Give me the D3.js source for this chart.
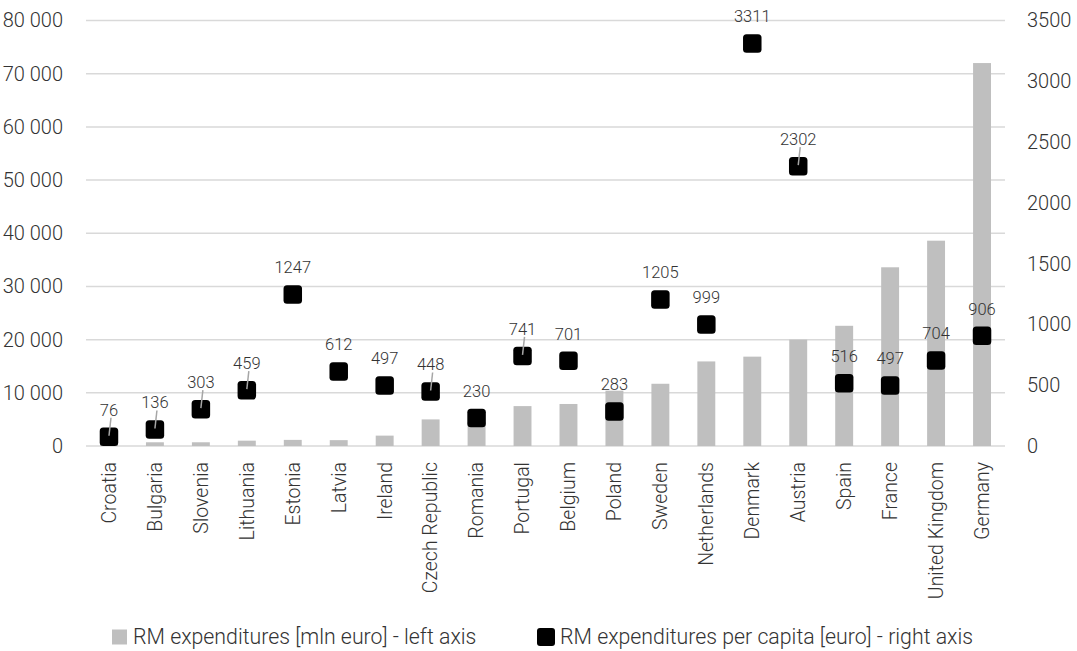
<!DOCTYPE html>
<html>
<head>
<meta charset="utf-8">
<script src="https://cdn.jsdelivr.net/npm/d3@7"></script>
<style>
	body { margin: 0; background: #fff; }
	svg { display: block; font-family: Roboto, "Noto Sans", sans-serif; font-weight: 300; }
</style>
</head>
<body>
<div id="chart"></div>
<script>
// countries, sorted by total spending
var countries = ["Croatia", "Bulgaria", "Slovenia", "Lithuania", "Estonia", "Latvia", "Ireland",
	"Czech Republic", "Romania", "Portugal", "Belgium", "Poland", "Sweden", "Netherlands",
	"Denmark", "Austria", "Spain", "France", "United Kingdom", "Germany"];
// RM expenditures [mln euro] - left axis
var totals = [350, 700, 700, 1000, 1150, 1100, 1950, 5000, 4500, 7500, 7900, 10400, 11700,
	15900, 16800, 20000, 22600, 33600, 38600, 72000];
// RM expenditures per capita [euro] - right axis
var perCapita = [76, 136, 303, 459, 1247, 612, 497, 448, 230, 741, 701, 283, 1205, 999,
	3311, 2302, 516, 497, 704, 906];
var leftTicks = [0, 10000, 20000, 30000, 40000, 50000, 60000, 70000, 80000];
var rightTicks = [0, 500, 1000, 1500, 2000, 2500, 3000, 3500];
// labels that Excel drew with a leader line
var withLeader = ["Croatia", "Bulgaria", "Slovenia", "Lithuania", "Czech Republic", "Portugal", "Austria"];

var W = 1077, H = 651;
var m = {top: 20.5, right: 72, bottom: 205, left: 86};

var svg = d3.select('#chart').append('svg')
	.attr('width', W)
	.attr('height', H);

var x = d3.scaleBand()
	.domain(countries)
	.range([m.left, W - m.right])
	.padding(0);
var yL = d3.scaleLinear().domain([0, 80000]).range([H - m.bottom, m.top]);
var yR = d3.scaleLinear().domain([0, 3500]).range([H - m.bottom, m.top]);

var fmt = function(d) { return d3.format(',')(d).replace(/,/g, ' '); };

// gridlines
svg.append('g')
	.selectAll('line')
	.data(leftTicks)
	.enter()
	.append('line')
	.attr('x1', m.left)
	.attr('x2', W - m.right)
	.attr('y1', function(d) { return yL(d); })
	.attr('y2', function(d) { return yL(d); })
	.attr('stroke', '#d9d9d9')
	.attr('stroke-width', 1.5);

// left axis
var gl = svg.append('g')
	.attr('transform', 'translate(' + (m.left - 17) + ',0)')
	.call(d3.axisLeft(yL).tickValues(leftTicks).tickFormat(fmt).tickSize(0).tickPadding(6));
gl.select('.domain').remove();
gl.selectAll('text')
	.attr('font-family', 'Roboto')
	.attr('font-size', '20px')
	.attr('fill', '#333');

// right axis
var gr = svg.append('g')
	.attr('transform', 'translate(' + (W - m.right + 16) + ',0)')
	.call(d3.axisRight(yR).tickValues(rightTicks).tickFormat(d3.format('d')).tickSize(0).tickPadding(6));
gr.select('.domain').remove();
gr.selectAll('text')
	.attr('font-family', 'Roboto')
	.attr('font-size', '20px')
	.attr('fill', '#333');

// bars
var bw = x.bandwidth() * 0.39;
svg.append('g')
	.selectAll('rect')
	.data(totals)
	.enter()
	.append('rect')
	.attr('x', function(d, i) { return x(countries[i]) + x.bandwidth() / 2 - bw / 2; })
	.attr('y', function(d) { return yL(d); })
	.attr('width', bw)
	.attr('height', function(d) { return yL(0) - yL(d); })
	.attr('fill', '#bfbfbf');

// category labels
svg.append('g')
	.selectAll('text')
	.data(countries)
	.enter()
	.append('text')
	.attr('transform', function(d) {
		return 'translate(' + (x(d) + x.bandwidth() / 2) + ',' + (yL(0) + 16) + ') rotate(-90)';
	})
	.attr('dy', '0.35em')
	.attr('text-anchor', 'end')
	.attr('font-size', '19.5px')
	.attr('fill', '#333')
	.text(function(d) { return d; });

// per capita markers
var sq = 18.5;
var pts = svg.append('g');
var cx = function(i) { return x(countries[i]) + x.bandwidth() / 2; };

pts.selectAll('rect')
	.data(perCapita)
	.enter()
	.append('rect')
	.attr('x', function(d, i) { return cx(i) - sq / 2; })
	.attr('y', function(d) { return yR(d) - sq / 2; })
	.attr('width', sq)
	.attr('height', sq)
	.attr('rx', 3.5)
	.attr('fill', '#000');

// leader lines sit over the squares, as in the source
pts.selectAll('line')
	.data(perCapita.map(function(d, i) { return i; })
		.filter(function(i) { return withLeader.indexOf(countries[i]) >= 0; }))
	.enter()
	.append('line')
	.attr('x1', function(i) { return cx(i) + 2; })
	.attr('x2', function(i) { return cx(i); })
	.attr('y1', function(i) { return yR(perCapita[i]) - 19; })
	.attr('y2', function(i) { return yR(perCapita[i]) - 1; })
	.attr('stroke', '#a6a6a6')
	.attr('stroke-width', 1.5);

pts.selectAll('text')
	.data(perCapita)
	.enter()
	.append('text')
	.attr('x', function(d, i) { return cx(i); })
	.attr('y', function(d) { return yR(d) - 27; })
	.attr('dy', '0.35em')
	.attr('text-anchor', 'middle')
	.attr('font-size', '16.5px')
	.attr('fill', '#333')
	.text(function(d) { return d; });

// legend
var lg = svg.append('g').attr('transform', 'translate(0,637)');
lg.append('rect')
	.attr('x', 112).attr('y', -7.5)
	.attr('width', 15).attr('height', 15)
	.attr('fill', '#bfbfbf');
lg.append('text')
	.attr('x', 133).attr('dy', '0.35em')
	.attr('font-size', '21.3px').attr('fill', '#333')
	.text('RM expenditures [mln euro] - left axis');
lg.append('rect')
	.attr('x', 537).attr('y', -9)
	.attr('width', 18).attr('height', 18)
	.attr('rx', 3)
	.attr('fill', '#000');
lg.append('text')
	.attr('x', 560).attr('dy', '0.35em')
	.attr('font-size', '21.3px').attr('fill', '#333')
	.text('RM expenditures per capita [euro] - right axis');
</script>
</body>
</html>
